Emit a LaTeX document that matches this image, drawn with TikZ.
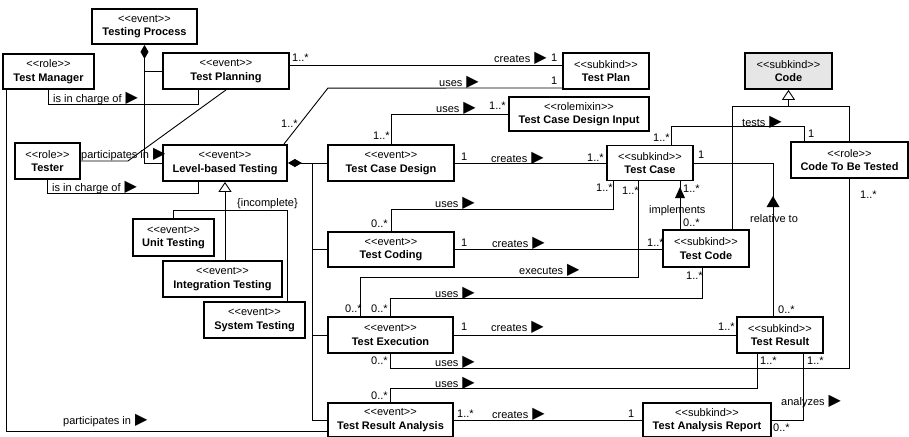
\documentclass[tikz,border=0pt]{standalone}
\usepackage{fontspec}
\setmainfont{Liberation Sans}[Ligatures=TeXOff]
\newfontfamily\arrowfnt{DejaVu Sans}
\usetikzlibrary{arrows.meta}
\definecolor{CodeGray}{HTML}{E6E6E6}
% reading direction of an association
\newcommand{\rdarr}{\hspace{4pt}{\arrowfnt\fontsize{16}{12}\selectfont ▶}}

\begin{document}
\begin{tikzpicture}[x=1pt, y=-1pt,
    cls/.style={draw, line width=1.8pt, fill=white, align=center, inner sep=0pt,
                font=\fontsize{11}{13.5}\selectfont},
    assoc/.style={line width=0.9pt},
    comp/.style={assoc, {Diamond[length=14pt,width=8pt]}-},
    gen/.style={assoc, -{Triangle[open,length=10pt,width=13pt]}},
    lbl/.style={font=\fontsize{11}{12}\selectfont, inner sep=0pt, anchor=west},
    mult/.style={lbl}
]
\useasboundingbox (0,0) rectangle (909,436);

% === Classes ===
\node[cls, minimum width=105pt, minimum height=35pt] (tproc) at (144.5,26.5) {<<event>>\\\textbf{Testing Process}};
\node[cls, minimum width=91pt, minimum height=35pt] (tmgr) at (48.5,71.5) {<<role>>\\\textbf{Test Manager}};
\node[cls, minimum width=126pt, minimum height=36pt] (tplng) at (226,71) {<<event>>\\\textbf{Test Planning}};
\node[cls, minimum width=86pt, minimum height=36pt] (tplan) at (606,71) {<<subkind>>\\\textbf{Test Plan}};
\node[cls, fill=CodeGray, minimum width=87pt, minimum height=36pt] (code) at (788.5,71) {<<subkind>>\\\textbf{Code}};
\node[cls, minimum width=140pt, minimum height=34pt] (tcdi) at (579,114) {<<rolemixin>>\\\textbf{Test Case Design Input}};
\node[cls, minimum width=65pt, minimum height=36pt] (tester) at (47.5,161) {<<role>>\\\textbf{Tester}};
\node[cls, minimum width=124pt, minimum height=36pt] (lbt) at (225,163) {<<event>>\\\textbf{Level-based Testing}};
\node[cls, minimum width=126pt, minimum height=36pt] (tcd) at (391,163) {<<event>>\\\textbf{Test Case Design}};
\node[cls, minimum width=86pt, minimum height=35pt] (tcase) at (650,163) {<<subkind>>\\\textbf{Test Case}};
\node[cls, minimum width=117pt, minimum height=36pt] (ctbt) at (849.5,160) {<<role>>\\\textbf{Code To Be Tested}};
\node[cls, minimum width=81pt, minimum height=37pt] (unit) at (173.5,237.5) {<<event>>\\\textbf{Unit Testing}};
\node[cls, minimum width=126pt, minimum height=35pt] (tcoding) at (391,249.5) {<<event>>\\\textbf{Test Coding}};
\node[cls, minimum width=86pt, minimum height=37pt] (tcode) at (706,248.5) {<<subkind>>\\\textbf{Test Code}};
\node[cls, minimum width=119pt, minimum height=36pt] (integ) at (222.5,279) {<<event>>\\\textbf{Integration Testing}};
\node[cls, minimum width=101pt, minimum height=36pt] (systest) at (254.5,320) {<<event>>\\\textbf{System Testing}};
\node[cls, minimum width=125pt, minimum height=36pt] (texec) at (390.5,335) {<<event>>\\\textbf{Test Execution}};
\node[cls, minimum width=86pt, minimum height=36pt] (tres) at (780,335) {<<subkind>>\\\textbf{Test Result}};
\node[cls, minimum width=125pt, minimum height=34pt] (tra) at (390.5,420) {<<event>>\\\textbf{Test Result Analysis}};
\node[cls, minimum width=128pt, minimum height=34pt] (tar) at (707,420) {<<subkind>>\\\textbf{Test Analysis Report}};

% === Testing process and planning ===
\draw[comp] (tproc.south) |- (lbt.west);
\draw[assoc] (tproc.south |- tplng.west) -- (tplng.west);
\draw[assoc] (tmgr.south) |- ([xshift=-28pt,yshift=-15pt]tplng.south) -- ([xshift=-28pt]tplng.south);
\draw[assoc] (tester.east) -- ++(47,0) -- (tplng.south);
\draw[assoc] (tester.south) |- ([xshift=-27pt,yshift=-12pt]lbt.south) -- ([xshift=-27pt]lbt.south);
\draw[assoc] ([xshift=-42.5pt]tmgr.south) |- ([yshift=-11pt]tra.west);
\draw[assoc] ([yshift=6pt]tplng.east) -- ([yshift=6pt]tplan.west);
\draw[assoc] ([xshift=-4pt]lbt.north east) -- ++(44,-56) -- ([yshift=-17pt]tplan.west);

\node[lbl] (l1) at (53,98) {is in charge of\rdarr};
\node[lbl] (l2) at (81,154) {participates in\rdarr};
\node[lbl] (l3) at (52,187) {is in charge of\rdarr};
\node[lbl] (l4) at (63,420) {participates in\rdarr};
\node[lbl] (l5) at (494,58) {creates\rdarr};
\node[lbl] (l6) at (439,82) {uses\rdarr};
\node[mult] (m1) at (292,58) {1..*};
\node[mult] (m2) at (551,58) {1};
\node[mult] (m3) at (551,81) {1};
\node[mult] (m4) at (281,124) {1..*};

% === Test levels ===
\draw[comp] (lbt.east) -- (tcd.west);
\draw[assoc] ([xshift=25pt]lbt.east) |- (tcoding.west);
\draw[assoc] ([xshift=25pt]lbt.east) |- (texec.west);
\draw[assoc] ([xshift=25pt]lbt.east) |- (tra.west);
\draw[gen] (integ.north -| lbt.south) -- (lbt.south);
\draw[assoc] (unit.north) |- ([yshift=-29pt]lbt.south) -| ([xshift=32.5pt]systest.north);
\node[lbl] (l7) at (237,204) {\{incomplete\}};

% === Test case design and coding ===
\draw[assoc] (tcd.north) |- (tcdi.west);
\draw[assoc] (tcd.east) -- (tcase.west);
\draw[assoc] ([xshift=21pt]tcase.north) |- ([xshift=-45.5pt,yshift=15pt]ctbt.north) -- ([xshift=-45.5pt]ctbt.north);
\draw[gen] ([yshift=-17pt]code.south) -- (code.south);
\draw[assoc] ([xshift=26pt]tcode.north) |- ([yshift=-17pt]code.south) -| (ctbt.north);
\draw[assoc] (tcase.east) -| ([xshift=-7pt]tres.north);
\draw[assoc] ([xshift=-26pt]tcode.north) -- ([xshift=-26pt]tcode.north |- tcase.south);
\draw[assoc] (tcoding.north) |- ([xshift=-37pt,yshift=-28pt]tcase.south) -- ([xshift=-37pt]tcase.south);
\draw[assoc] (tcoding.east) -- (tcoding.east -| tcode.west);
\fill (680,187) -- (685,198) -- (675,198) -- cycle;
\fill (773,196) -- (779.5,207) -- (766.5,207) -- cycle;

\node[lbl] (l8) at (436,108) {uses\rdarr};
\node[lbl] (l9) at (491,158) {creates\rdarr};
\node[lbl] (l10) at (742,122) {tests\rdarr};
\node[lbl] (l11) at (649,211) {implements};
\node[lbl] (l12) at (750,219) {relative to};
\node[lbl] (l13) at (435,203) {uses\rdarr};
\node[lbl] (l14) at (492,243) {creates\rdarr};
\node[mult] (m5) at (489,106) {1..*};
\node[mult] (m6) at (373,136) {1..*};
\node[mult] (m7) at (461,157) {1};
\node[mult] (m8) at (587,158) {1..*};
\node[mult] (m9) at (653,138) {1..*};
\node[mult] (m10) at (808,134) {1};
\node[mult] (m11) at (698,155) {1};
\node[mult] (m12) at (596,188) {1..*};
\node[mult] (m13) at (622,191) {1..*};
\node[mult] (m14) at (683,189) {1..*};
\node[mult] (m15) at (683,223) {0..*};
\node[mult] (m16) at (371,224) {0..*};
\node[mult] (m17) at (461,243) {1};
\node[mult] (m18) at (647,243) {1..*};

% === Execution and analysis ===
\draw[assoc] ([xshift=-30.5pt]texec.north) |- ([xshift=-12pt,yshift=-96pt]tcase.south) -- ([xshift=-12pt]tcase.south);
\draw[assoc] (texec.north) |- ([xshift=-4pt,yshift=-31pt]tcode.south) -- ([xshift=-4pt]tcode.south);
\draw[assoc] (texec.east) -- (tres.west);
\draw[assoc] (texec.south) |- ([yshift=-190pt]ctbt.south) -- (ctbt.south);
\draw[assoc] (tra.north) |- ([xshift=-23pt,yshift=-35pt]tres.south) -- ([xshift=-23pt]tres.south);
\draw[assoc] (tra.east) -- (tar.west);
\draw[assoc] (tar.east) -| ([xshift=23pt]tres.south);

\node[lbl] (l15) at (519,270) {executes\rdarr};
\node[lbl] (l16) at (435,293) {uses\rdarr};
\node[lbl] (l17) at (491,327) {creates\rdarr};
\node[lbl] (l18) at (435,362) {uses\rdarr};
\node[lbl] (l19) at (435,383) {uses\rdarr};
\node[lbl] (l20) at (492,414) {creates\rdarr};
\node[lbl] (l21) at (781,401) {analyzes\rdarr};
\node[mult] (m19) at (686,276) {1..*};
\node[mult] (m20) at (860,195) {1..*};
\node[mult] (m21) at (345,309) {0..*};
\node[mult] (m22) at (371,309) {0..*};
\node[mult] (m23) at (461,327) {1};
\node[mult] (m24) at (718,327) {1..*};
\node[mult] (m25) at (778,310) {0..*};
\node[mult] (m26) at (371,361) {0..*};
\node[mult] (m27) at (760,361) {1..*};
\node[mult] (m28) at (807,361) {1..*};
\node[mult] (m29) at (371,396) {0..*};
\node[mult] (m30) at (457,414) {1..*};
\node[mult] (m31) at (628,414) {1};
\node[mult] (m32) at (773,428) {0..*};
\end{tikzpicture}
\end{document}
